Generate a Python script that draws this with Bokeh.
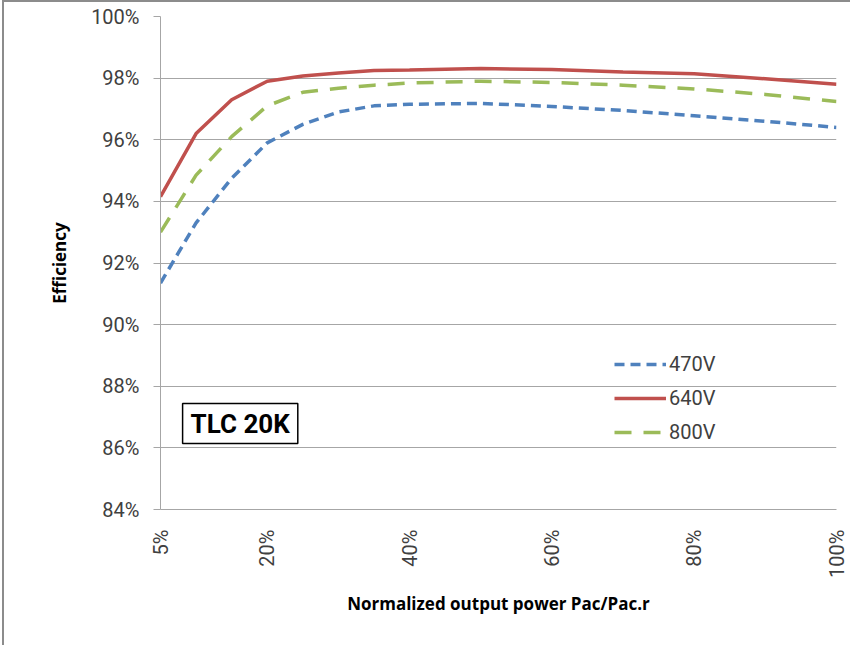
import math
from bokeh.plotting import figure
from bokeh.models import (Range1d, FixedTicker, Legend, LegendItem, Label, ColumnDataSource)
from bokeh.embed import file_html
from bokeh.resources import INLINE

# ---- data ----
load_pct = [5, 10, 15, 20, 25, 30, 35, 40, 50, 60, 70, 80, 90, 100]
eff_470v = [91.35, 93.3, 94.75, 95.9, 96.5, 96.9, 97.1, 97.15, 97.18, 97.08, 96.95, 96.78, 96.6, 96.4]
eff_640v = [94.15, 96.2, 97.3, 97.9, 98.07, 98.17, 98.25, 98.26, 98.31, 98.28, 98.2, 98.14, 97.98, 97.8]
eff_800v = [93.0, 94.85, 96.1, 97.1, 97.54, 97.67, 97.77, 97.84, 97.9, 97.86, 97.77, 97.65, 97.47, 97.24]
series_names = ["470V", "640V", "800V"]
x_ticks = [5, 20, 40, 60, 80, 100]
y_ticks = [84, 86, 88, 90, 92, 94, 96, 98, 100]
title_text = "TLC 20K"

TICK_FONT = "Roboto"
TITLE_FONT = "Open Sans"

p = figure(width=848, height=645, output_backend="svg", toolbar_location=None,
           x_range=Range1d(5, 100), y_range=Range1d(84, 100),
           min_border_left=156, min_border_top=14, min_border_right=16, min_border_bottom=138)
p.styles = {"border-left": "2px solid #8c8c8c", "border-top": "2px solid #8c8c8c",
            "margin-left": "2px"}
p.outline_line_color = None
p.background_fill_color = "white"
p.border_fill_color = "white"

# grid
p.xgrid.grid_line_color = None
p.ygrid.grid_line_color = "#a6a6a6"
p.ygrid.grid_line_width = 1
p.ygrid.ticker = FixedTicker(ticks=y_ticks)

# x axis
p.xaxis.ticker = FixedTicker(ticks=x_ticks)
p.xaxis.major_label_overrides = {t: f"{t}%" for t in x_ticks}
p.xaxis.major_label_orientation = math.pi / 2
p.xaxis.major_tick_line_color = None
p.xaxis.minor_tick_line_color = None
p.xaxis.major_tick_out = 0
p.xaxis.major_tick_in = 0
p.xaxis.axis_line_color = "#a6a6a6"
p.xaxis.major_label_standoff = 20
p.xaxis.major_label_text_font = TICK_FONT
p.xaxis.major_label_text_font_size = "20px"
p.xaxis.major_label_text_color = "#404040"
p.xaxis.axis_label = "Normalized output power Pac/Pac.r"
p.xaxis.axis_label_text_font = TITLE_FONT
p.xaxis.axis_label_text_font_style = "bold"
p.xaxis.axis_label_text_font_size = "17px"
p.xaxis.axis_label_text_color = "black"
p.xaxis.axis_label_standoff = 11

# y axis
p.yaxis.ticker = FixedTicker(ticks=y_ticks)
p.yaxis.major_label_overrides = {t: f"{t}%" for t in y_ticks}
p.yaxis.axis_line_color = "#a6a6a6"
p.yaxis.major_tick_line_color = "#a6a6a6"
p.yaxis.major_tick_out = 7
p.yaxis.major_tick_in = 0
p.yaxis.minor_tick_line_color = None
p.yaxis.major_label_standoff = 14
p.yaxis.major_label_text_font = TICK_FONT
p.yaxis.major_label_text_font_size = "20px"
p.yaxis.major_label_text_color = "#404040"
p.yaxis.axis_label = "Efficiency"
p.yaxis.axis_label_text_font = TITLE_FONT
p.yaxis.axis_label_text_font_style = "bold"
p.yaxis.axis_label_text_font_size = "17px"
p.yaxis.axis_label_text_color = "black"
p.yaxis.axis_label_standoff = 17

src = ColumnDataSource(dict(x=load_pct, a=eff_470v, b=eff_640v, c=eff_800v))
r1 = p.line("x", "a", source=src, line_color="#4F81BD", line_width=3.5, line_dash="10 6")
r2 = p.line("x", "b", source=src, line_color="#C0504D", line_width=3.5)
r3 = p.line("x", "c", source=src, line_color="#9BBB59", line_width=3.5, line_dash="17 12")

legend = Legend(items=[LegendItem(label=series_names[0], renderers=[r1]),
                       LegendItem(label=series_names[1], renderers=[r2]),
                       LegendItem(label=series_names[2], renderers=[r3])],
                location=(454, 62), orientation="vertical",
                glyph_width=52, glyph_height=30, label_standoff=3, spacing=4,
                padding=0, margin=0, border_line_color=None, background_fill_alpha=0,
                label_text_font=TICK_FONT, label_text_font_size="20px",
                label_text_color="#404040")
p.add_layout(legend)

lbl = Label(x=16.2, y=86.79, text=title_text, text_align="center", text_baseline="middle",
            text_font="Roboto", text_font_style="bold", text_font_size="26px",
            text_color="black", border_line_color="black", border_line_width=1.5,
            background_fill_color="white", padding=(8, 5))
p.add_layout(lbl)

open("out.html", "w").write(file_html(p, INLINE))
